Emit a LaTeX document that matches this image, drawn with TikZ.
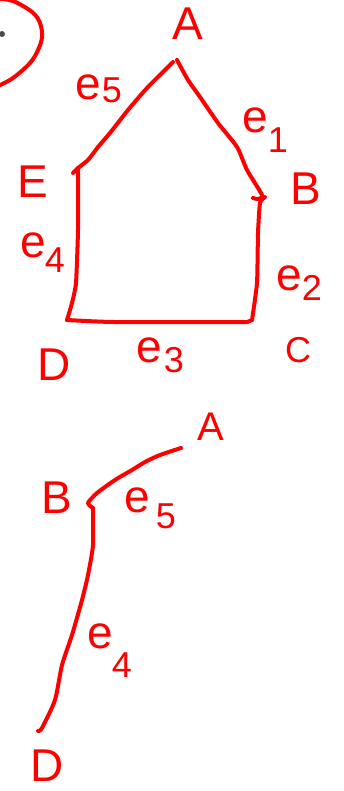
\documentclass[tikz,border=0pt]{standalone}
\usepackage{fontspec}
\setmainfont{Liberation Sans}
\newcommand\es[3]{e\kern#2\raisebox{-#3}{\fontsize{36}{36}\selectfont #1}}
\begin{document}
\begin{tikzpicture}[x=1pt,y=-1pt,
  pen/.style={red, line width=4pt, line cap=round, line join=round},
  capl/.style={text=red, font=\fontsize{46}{46}\selectfont, inner sep=0pt, anchor=base},
  lbl/.style={text=red, font=\fontsize{46}{46}\selectfont, inner sep=0pt, anchor=base west}]
\useasboundingbox (0,0) rectangle (344,791);
% top-left partial circle and dot
\draw[pen] plot[smooth, tension=0.6] coordinates {(-2,-1) (13,1) (32,12) (40,23) (42,37) (38,50) (30,63) (13,78) (-2,86)};
\fill[black!70] (2,34) circle (3);
% pentagon vertices
\coordinate (pA) at (177,60);
\coordinate (pE) at (78,168);
\coordinate (pD) at (67,320);
\coordinate (pC) at (252,320);
\coordinate (pB) at (262,196);
% edges
\draw[pen] plot[smooth, tension=0.4] coordinates {(173,62) (163,72) (147,88) (128,110) (110,133) (98,147) (88,160) (78,168) (73,173)};
\draw[pen] plot[smooth, tension=0.3] coordinates {(pE) (78,230) (76,283) (72,303) (pD)};
\draw[pen] plot[smooth, tension=0.3] coordinates {(pD) (113,322) (233,322) (247,322) (pC)};
\draw[pen] plot[smooth, tension=0.3] coordinates {(pC) (257,283) (258,233) (260,203) (265,197)};
\draw[pen] plot[smooth, tension=0.4] coordinates {(pA) (188,80) (200,97) (218,123) (237,147) (247,170) (262,195) (258,199) (253,198)};
% pentagon labels
\node[capl] (lA) at (188,40) {A};
\node[capl] (lE) at (33,198) {E};
\node[capl] (lB) at (306,205) {B};
\node[capl] (lD) at (54,380) {D};
\node[capl, font=\fontsize{36}{36}\selectfont] (lC) at (298,362) {C};
\node[lbl] (le5) at (75,100) {\es{5}{1pt}{3pt}};
\node[lbl] (le1) at (242,133) {\es{1}{0pt}{20pt}};
\node[lbl] (le2) at (276,290) {\es{2}{0pt}{10pt}};
\node[lbl] (le3) at (136,362) {\es{3}{2pt}{10pt}};
\node[lbl] (le4) at (20,258) {\es{4}{-1pt}{15pt}};
% lower path
\coordinate (qA) at (181,448);
\coordinate (qB) at (90,504);
\coordinate (qD) at (38,731);
\draw[pen] plot[smooth, tension=0.4] coordinates {(qA) (160,455) (145,462) (132,470) (115,480) (97,493) (88,503) (93,508)};
\draw[pen] plot[smooth, tension=0.4] coordinates {(93,508) (93,545) (88,575) (82,600) (72,635) (62,665) (55,700) (42,728) (qD)};
\node[capl, font=\fontsize{40}{40}\selectfont] (mA) at (211,440) {A};
\node[capl] (mB) at (57,513) {B};
\node[capl] (mD) at (47,781) {D};
\node[lbl] (me5) at (124,512) {\es{5}{6pt}{16pt}};
\node[lbl] (me4) at (87,648) {\es{4}{-1pt}{29pt}};
\end{tikzpicture}
\end{document}
